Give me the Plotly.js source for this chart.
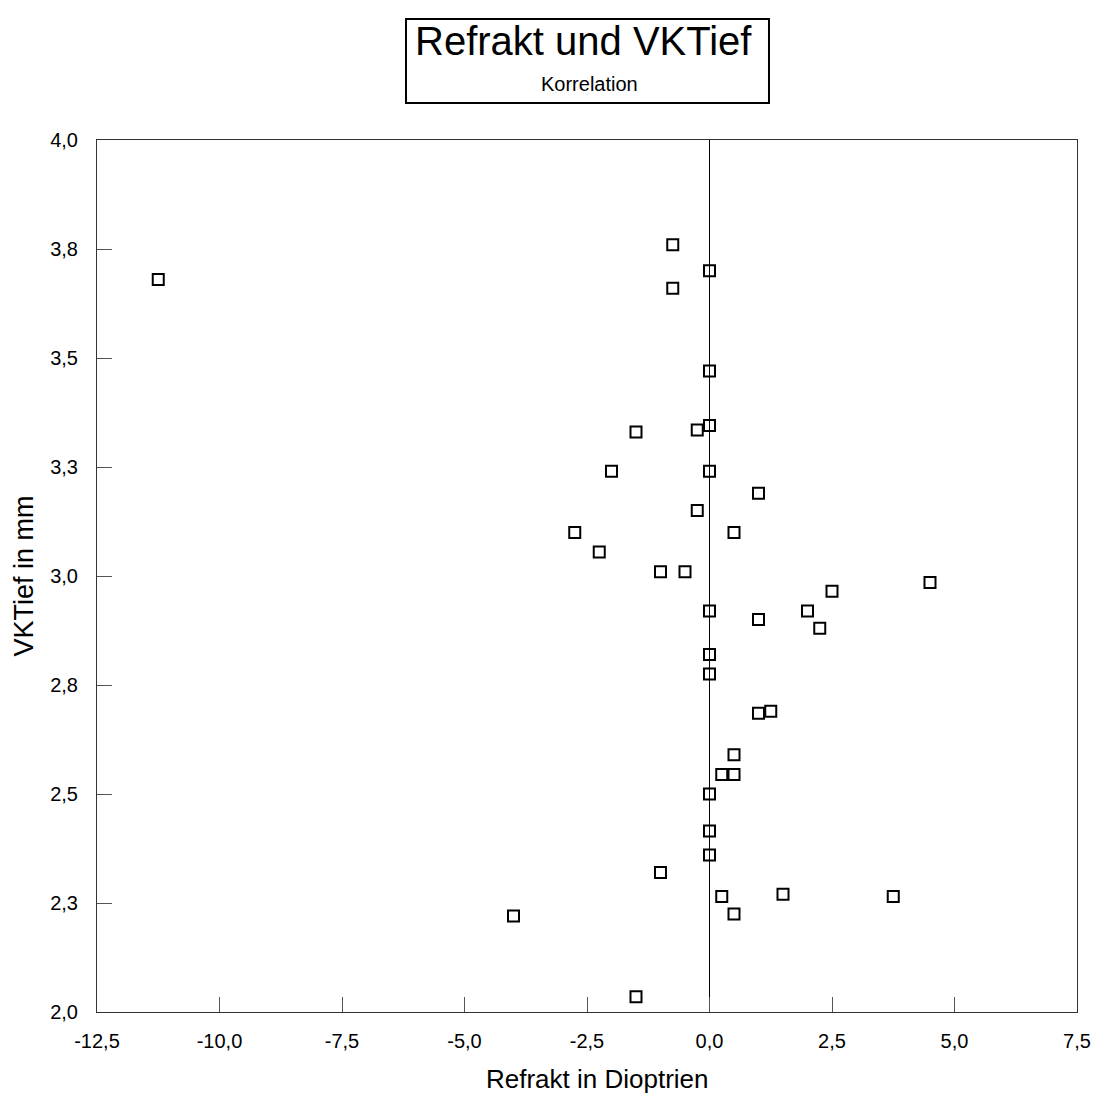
<!DOCTYPE html>
<html>
<head>
<meta charset="utf-8">
<script src="https://cdn.plot.ly/plotly-3.0.1.min.js"></script>
<style>html,body{margin:0;padding:0;background:#fff;}#chart{width:1096px;height:1094px;}</style>
</head>
<body>
<div id="chart"></div>
<script>
// Data
const refrakt = [
  -11.25, -0.75, 0, -0.75, 0,
  -1.5, -0.25, 0, -2.0, 0, 1.0, -0.25, -2.75, 0.5, -2.25, -1.0, -0.5, 2.5, 0, 2.0, 1.0,
  4.5, 2.25,
  0, 0, 1.25, 1.0, 0.5, 0.25, 0.5, 0, 0, 0,
  -1.0, 1.5, 3.75, 0.25, -4.0, 0.5, -1.5
];
const vktief = [
  3.68, 3.76, 3.70, 3.66, 3.47,
  3.33, 3.335, 3.345, 3.24, 3.24, 3.19, 3.15, 3.10, 3.10, 3.055, 3.01, 3.01, 2.965, 2.92, 2.92, 2.90,
  2.985, 2.88,
  2.82, 2.775, 2.69, 2.685, 2.59, 2.545, 2.545, 2.50, 2.415, 2.36,
  2.32, 2.27, 2.265, 2.265, 2.22, 2.225, 2.035
];
const xTickVals = [-12.5, -10, -7.5, -5, -2.5, 0, 2.5, 5, 7.5];
const xTickText = ["-12,5", "-10,0", "-7,5", "-5,0", "-2,5", "0,0", "2,5", "5,0", "7,5"];
const yTickVals = [2.0, 2.25, 2.5, 2.75, 3.0, 3.25, 3.5, 3.75, 4.0];
const yTickText = ["2,0", "2,3", "2,5", "2,8", "3,0", "3,3", "3,5", "3,8", "4,0"];
const titleText = "Refrakt und VKTief";
const subtitleText = "Korrelation";
const xTitle = "Refrakt in Dioptrien";
const yTitle = "VKTief in mm";

const FONT = "Liberation Sans, Arial, sans-serif";

const trace = {
  x: refrakt,
  y: vktief,
  type: "scatter",
  mode: "markers",
  marker: {symbol: "square-open", size: 11, color: "#000", line: {color: "#000", width: 2}},
  hoverinfo: "x+y",
  showlegend: false
};

const layout = {
  width: 1096,
  height: 1094,
  margin: {l: 97, r: 19, t: 140, b: 82},
  paper_bgcolor: "#fff",
  plot_bgcolor: "#fff",
  font: {family: FONT, color: "#000", size: 20},
  showlegend: false,
  xaxis: {
    range: [-12.5, 7.5],
    tickmode: "array",
    tickvals: xTickVals,
    ticktext: xTickText,
    ticks: "inside",
    ticklen: 15,
    tickwidth: 1,
    tickcolor: "#555",
    showgrid: false,
    zeroline: true,
    zerolinecolor: "#000",
    zerolinewidth: 1,
    showline: true,
    linecolor: "#333",
    linewidth: 1,
    mirror: true,
    ticklabelstandoff: 11,
    tickfont: {family: FONT, size: 20, color: "#000"}
  },
  yaxis: {
    range: [2.0, 4.0],
    tickmode: "array",
    tickvals: yTickVals,
    ticktext: yTickText,
    ticks: "inside",
    ticklen: 15,
    tickwidth: 1,
    tickcolor: "#555",
    showgrid: false,
    zeroline: false,
    showline: true,
    linecolor: "#333",
    linewidth: 1,
    mirror: true,
    ticklabelstandoff: 14,
    tickfont: {family: FONT, size: 20, color: "#000"},
    title: {text: yTitle, font: {family: FONT, size: 27, color: "#000"}, standoff: 8}
  },
  shapes: [{
    type: "rect", xref: "paper", yref: "paper",
    x0: 0.3153, x1: 0.6857, y0: 1.0424, y1: 1.1388,
    line: {color: "#000", width: 2}, fillcolor: "rgba(0,0,0,0)"
  }],
  annotations: [
    {text: titleText, xref: "paper", yref: "paper", x: 0.4964, y: 1.1135,
     xanchor: "center", yanchor: "middle", showarrow: false,
     font: {family: FONT, size: 40, color: "#000"}},
    {text: subtitleText, xref: "paper", yref: "paper", x: 0.503, y: 1.0645,
     xanchor: "center", yanchor: "middle", showarrow: false,
     font: {family: FONT, size: 20, color: "#000"}},
    {text: xTitle, xref: "paper", yref: "paper", x: 0.511, y: -0.0768,
     xanchor: "center", yanchor: "middle", showarrow: false,
     font: {family: FONT, size: 26, color: "#000"}}
  ]
};

Plotly.newPlot("chart", [trace], layout, {displayModeBar: false, staticPlot: true});
</script>
</body>
</html>
